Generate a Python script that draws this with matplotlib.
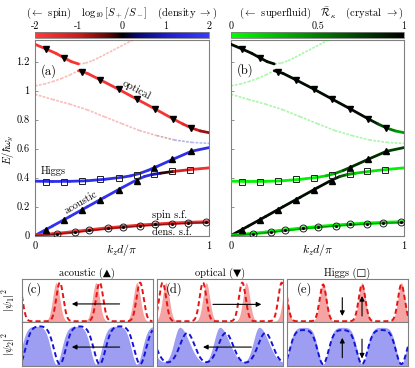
import numpy as np
import matplotlib
matplotlib.use('Agg')
import matplotlib.pyplot as plt
from matplotlib.collections import LineCollection
from matplotlib.colors import LinearSegmentedColormap, Normalize
from matplotlib.cm import ScalarMappable

plt.rcParams['font.family'] = ['cmr10', 'DejaVu Sans']
plt.rcParams['mathtext.fontset'] = 'cm'
plt.rcParams['axes.formatter.use_mathtext'] = True
plt.rcParams['font.size'] = 7.5

# =====================================================
# DISPERSION DATA  (k_z d / pi , E / hbar w_y)
# ca = log10[S+/S-] colour value, cb = R_kappa colour value
# =====================================================

opt_hi_k = [0, 0.06, 0.12, 0.17, 0.21, 0.25]
opt_hi_E = [1.32, 1.29, 1.258, 1.225, 1.2, 1.185]
opt_hi_ca = [-1.8] * 6
opt_hi_cb = [0.95] * 6

opt_hi_faint_k = [0.25, 0.29, 0.33, 0.37, 0.41, 0.45, 0.49, 0.53, 0.58]
opt_hi_faint_E = [1.185, 1.19, 1.207, 1.23, 1.255, 1.28, 1.305, 1.33, 1.36]
opt_hi_faint_ca = [-1.8] * 9
opt_hi_faint_cb = [0.1] * 9

opt_lo_faint_k = [0, 0.05, 0.1, 0.15, 0.2, 0.25]
opt_lo_faint_E = [1.033, 1.045, 1.062, 1.083, 1.108, 1.138]
opt_lo_faint_ca = [-1.8] * 6
opt_lo_faint_cb = [0.1] * 6

opt_lo_k = [0.25, 0.3, 0.375, 0.48, 0.586, 0.69, 0.794, 0.85, 0.9, 0.95, 1.0]
opt_lo_E = [1.138, 1.12, 1.075, 1.01, 0.941, 0.874, 0.805, 0.77, 0.742, 0.722, 0.71]
opt_lo_ca = [-1.8] * 7 + [-1.6, -1.2, -0.8, -0.5]
opt_lo_cb = [0.95] * 7 + [0.8, 0.6, 0.45, 0.35]

third_k = [0, 0.1, 0.2, 0.3, 0.4, 0.5, 0.6, 0.7, 0.8, 0.9, 1.0]
third_E = [0.975, 0.94, 0.907, 0.868, 0.82, 0.772, 0.725, 0.69, 0.66, 0.643, 0.636]
third_ca = [-1.8] * 7 + [-1.2, 0.3, 1.2, 1.6]
third_cb = [0.1] * 11

lower_k = [0, 0.1, 0.2, 0.3, 0.4, 0.5, 0.586, 0.63, 0.67, 0.72, 0.8, 0.9, 1.0]
lower_E = [0, 0.065, 0.131, 0.198, 0.264, 0.33, 0.385, 0.408, 0.42, 0.43, 0.443, 0.456, 0.467]
lower_ca = [1.7] * 8 + [1.2, 0.5, -0.8, -1.6, -1.7]
lower_cb = [0.95] * 7 + [0.8, 0.5, 0.25, 0.08, 0.05, 0.05]

upper_k = [0, 0.1, 0.2, 0.3, 0.4, 0.5, 0.55, 0.6, 0.65, 0.7, 0.8, 0.9, 1.0]
upper_E = [0.375, 0.373, 0.374, 0.378, 0.388, 0.402, 0.412, 0.428, 0.45, 0.476, 0.53, 0.582, 0.607]
upper_ca = [1.6] * 13
upper_cb = [0.05] * 6 + [0.15, 0.35, 0.6, 0.8, 0.85, 0.8, 0.7]

sf_k = [0, 0.1, 0.2, 0.3, 0.4, 0.5, 0.6, 0.7, 0.8, 0.9, 1.0]
sf_spin_E = [0, 0.01, 0.022, 0.036, 0.049, 0.06, 0.07, 0.078, 0.085, 0.09, 0.094]
sf_dens_E = [0, 0.008, 0.019, 0.032, 0.045, 0.056, 0.066, 0.074, 0.081, 0.086, 0.09]

# markers
opt_mk_k = [0.062, 0.169, 0.27, 0.375, 0.48, 0.586, 0.69, 0.794, 0.897]
opt_mk_E = [1.29, 1.225, 1.13, 1.075, 1.01, 0.941, 0.874, 0.805, 0.74]
aco_mk_k = [0.062, 0.167, 0.269, 0.375, 0.48, 0.586, 0.686, 0.79, 0.894]
aco_mk_E = [0.039, 0.109, 0.178, 0.248, 0.312, 0.377, 0.467, 0.525, 0.582]
hig_mk_k = [0.062, 0.167, 0.269, 0.375, 0.48, 0.586, 0.686, 0.788, 0.893]
hig_mk_E = [0.372, 0.372, 0.376, 0.388, 0.40, 0.418, 0.428, 0.443, 0.455]
sf_mk_k = [0.125, 0.23, 0.313, 0.417, 0.505, 0.605, 0.688, 0.788, 0.88, 0.984]
sf_mk_E = [0.012, 0.023, 0.039, 0.053, 0.062, 0.069, 0.076, 0.081, 0.088, 0.09]

# =====================================================
# DENSITY PROFILE DATA (peak / dip centres, panel fraction)
# =====================================================

aco_psi1_fill = [0.262, 0.567, 0.88]
aco_psi1_dash = [-0.025, 0.29, 0.595, 0.905]
aco_psi2_fill = [-0.047, 0.262, 0.567, 0.88, 1.19]
aco_psi2_dash = [-0.02, 0.29, 0.595, 0.905, 1.215]

opt_psi1_fill = [0.07, 0.391, 0.709, 1.025]
opt_psi1_dash = [0.045, 0.365, 0.677, 0.99]
opt_psi2_fill = [-0.135, 0.18, 0.498, 0.81, 1.125]
opt_psi2_dash = [-0.07, 0.24, 0.545, 0.86, 1.17]

hig_psi1_fill = [-0.025, 0.298, 0.62, 0.945]
hig_psi1_dash = [-0.025, 0.298, 0.62, 0.945]
hig_psi2_fill = [-0.025, 0.298, 0.62, 0.945, 1.27]
hig_psi2_dash = [-0.025, 0.298, 0.62, 0.945, 1.27]

# =====================================================
# COLOUR MAPS
# =====================================================

cmap_a = LinearSegmentedColormap.from_list('spin_density', [
    (0, '#ff3a3a'), (0.25, '#cc1c1c'), (0.42, '#600606'), (0.5, '#000000'),
    (0.58, '#06066a'), (0.75, '#1c1cc8'), (1, '#3a3aff')])
norm_a = Normalize(-2, 2)
cmap_b = LinearSegmentedColormap.from_list('sf_crystal', ['#00ff00', '#000000'])
norm_b = Normalize(0, 1)

W, H = 415, 368
GRAY = '#808080'


def box(x0, y0, x1, y1):
    return [x0 / W, 1 - y1 / H, (x1 - x0) / W, (y1 - y0) / H]


def draw_curve(ax, k, E, c, cmap, norm, lw, alpha=1.0, ls='-'):
    pts = np.column_stack([k, E])
    segs = np.stack([pts[:-1], pts[1:]], axis=1)
    c = np.asarray(c, dtype=float)
    cols = cmap(norm(0.5 * (c[:-1] + c[1:])))
    cols[:, 3] = alpha
    cap = 'round' if alpha == 1.0 else 'butt'
    lc = LineCollection(segs, colors=cols, linewidths=lw, linestyles=ls,
                        capstyle=cap, joinstyle='round', zorder=3)
    ax.add_collection(lc)


def style_spines(ax):
    for s in ax.spines.values():
        s.set_color(GRAY)
        s.set_linewidth(0.8)


fig = plt.figure(figsize=(W / 100, H / 100), dpi=100)

ax_a = fig.add_axes(box(35, 40, 209, 235.5))
ax_b = fig.add_axes(box(231, 40, 404, 235.5))
cax_a = fig.add_axes(box(35, 32, 209, 37.5))
cax_b = fig.add_axes(box(231, 32, 404, 37.5))

faint = [
    (opt_hi_faint_k, opt_hi_faint_E, opt_hi_faint_ca, opt_hi_faint_cb),
    (opt_lo_faint_k, opt_lo_faint_E, opt_lo_faint_ca, opt_lo_faint_cb),
    (third_k, third_E, third_ca, third_cb),
]
bold = [
    (opt_hi_k, opt_hi_E, opt_hi_ca, opt_hi_cb),
    (opt_lo_k, opt_lo_E, opt_lo_ca, opt_lo_cb),
    (lower_k, lower_E, lower_ca, lower_cb),
    (upper_k, upper_E, upper_ca, upper_cb),
]

for i, (ax, cmap, norm) in enumerate([(ax_a, cmap_a, norm_a), (ax_b, cmap_b, norm_b)]):
    for k, E, ca, cb in faint:
        draw_curve(ax, k, E, ca if i == 0 else cb, cmap, norm, 1.2, alpha=0.33, ls=(0, (1.6, 0.8)))
    for k, E, ca, cb in bold:
        draw_curve(ax, k, E, ca if i == 0 else cb, cmap, norm, 2.0)
    # superfluid modes
    draw_curve(ax, sf_k, sf_spin_E, [-1.7 if i == 0 else 0.05] * len(sf_k), cmap, norm, 2.4)
    draw_curve(ax, sf_k, sf_dens_E, [-0.6 if i == 0 else 0.4] * len(sf_k), cmap, norm, 0.9)

    ax.plot(opt_mk_k, opt_mk_E, 'v', color='k', ms=4.3, zorder=5)
    ax.plot(aco_mk_k, aco_mk_E, '^', color='k', ms=4.0, zorder=5)
    ax.plot(hig_mk_k, hig_mk_E, 's', mfc='none', mec='#202020', ms=5, mew=0.7, zorder=5)
    ax.plot(sf_mk_k, sf_mk_E, 'o', mfc='none', mec='#202020', ms=5, mew=0.7, zorder=5)
    ax.plot(sf_mk_k, sf_mk_E, '.', color='k', ms=2.5, zorder=5)

    ax.set_xlim(0, 1)
    ax.set_ylim(0, 1.35)
    ax.set_xticks([0, 1])
    ax.set_xticklabels(['0', '1'])
    ax.set_yticks([0, 0.2, 0.4, 0.6, 0.8, 1.0, 1.2])
    if i == 0:
        ax.set_yticklabels(['0', '0.2', '0.4', '0.6', '0.8', '1', '1.2'])
    else:
        ax.set_yticklabels([])
    ax.tick_params(direction='in', length=2.5, width=0.6, color=GRAY, labelsize=7.5, pad=4.0)
    ax.tick_params(axis='x', pad=4)
    style_spines(ax)
    pos = ax.get_position()
    fig.text(pos.x0 + pos.width / 2, 1 - 250 / H, r'$k_z d/\pi$', ha='center', va='center', fontsize=8.5)

fig.text(8 / W, 1 - 150 / H, r'$E/\hbar\omega_y$', rotation=90, ha='center', va='center', fontsize=7.6)

ax_a.text(0.078, 0.84, '(a)', transform=ax_a.transAxes, fontsize=9, ha='center', va='center')
ax_b.text(0.081, 0.846, '(b)', transform=ax_b.transAxes, fontsize=9, ha='center', va='center')
ax_a.text(0.586, 1.008, 'optical', rotation=-28, ha='center', va='center', fontsize=7.5)
ax_a.text(0.265, 0.231, 'acoustic', rotation=30, ha='center', va='center', fontsize=7.5)
ax_a.text(0.035, 0.445, 'Higgs', ha='left', va='center', fontsize=7.5)
ax_a.text(0.672, 0.139, 'spin s.f.', ha='left', va='center', fontsize=7.5)
ax_a.text(0.672, 0.022, 'dens. s.f.', ha='left', va='center', fontsize=7.5)

# colour bars
for cax, cmap, norm, ticks, labels in [
        (cax_a, cmap_a, norm_a, [-2, -1, 0, 1, 2], ['-2', '-1', '0', '1', '2']),
        (cax_b, cmap_b, norm_b, [0, 0.5, 1], ['0', '0.5', '1'])]:
    cb = fig.colorbar(ScalarMappable(norm, cmap), cax=cax, orientation='horizontal', ticks=ticks)
    cax.xaxis.set_ticks_position('top')
    cax.set_xticklabels(labels)
    cax.tick_params(length=0, pad=1.0, labelsize=7.2)
    cb.outline.set_edgecolor(GRAY)
    cb.outline.set_linewidth(0.6)

fig.text(122 / W, 1 - 13 / H, r'($\leftarrow$ spin)   $\log_{10}[S_+/S_-]$   (density $\rightarrow$)',
         ha='center', va='center', fontsize=7.6)
fig.text(321 / W, 1 - 13 / H, r'($\leftarrow$ superfluid)   $\bar{\mathcal{R}}_\kappa$   (crystal $\rightarrow$)',
         ha='center', va='center', fontsize=7.6)

# =====================================================
# DENSITY PROFILES
# =====================================================

x = np.linspace(0, 1, 600)


def bumps(centres, sl, sr):
    y = np.zeros_like(x)
    for c in centres:
        d = x - c
        s = np.where(d < 0, sl, sr)
        y += np.exp(-d ** 2 / (2 * s ** 2))
    return y


cols_px = [(22, 152.5), (157, 283), (287, 408)]
rows_px = [(279, 322), (322, 366)]
titles = ['acoustic (▲)', 'optical (▼)', 'Higgs (□)']
letters = ['(c)', '(d)', '(e)']
letter_x = [0.095, 0.135, 0.145]

# (fill centres, dash centres, kind, width_l, width_r, fill amp, dash amp)
prof_table = [
    [(aco_psi1_fill, aco_psi1_dash, 'peak', 0.027, 0.027, 1.0, 1.0),
     (aco_psi2_fill, aco_psi2_dash, 'dip', 0.042, 0.042, 1.0, 1.0)],
    [(opt_psi1_fill, opt_psi1_dash, 'peak', 0.027, 0.027, 1.0, 1.0),
     (opt_psi2_fill, opt_psi2_dash, 'peak', 0.045, 0.075, 0.97, 0.82)],
    [(hig_psi1_fill, hig_psi1_dash, 'peak', 0.028, 0.028, 1.0, 0.95),
     (hig_psi2_fill, hig_psi2_dash, 'dip', 0.042, 0.042, 0.97, 0.9)],
]

arrows = [
    [((0.748, 0.42), (0.382, 0.42))], [((0.748, 0.43), (0.382, 0.43))],
    [((0.444, 0.41), (0.828, 0.41))], [((0.749, 0.43), (0.365, 0.43))],
    [((0.457, 0.565), (0.457, 0.14)), ((0.62, 0.14), (0.62, 0.605))],
    [((0.457, 0.19), (0.457, 0.64)), ((0.62, 0.61), (0.62, 0.17))],
]

for j, (x0, x1) in enumerate(cols_px):
    for r, (y0, y1) in enumerate(rows_px):
        ax = fig.add_axes(box(x0, y0, x1, y1))
        fc, dc, kind, sl, sr, af, ad = prof_table[j][r]
        if kind == 'peak':
            yf = af * bumps(fc, sl, sr)
            if j == 1 and r == 1:
                yd = ad * bumps(dc, 0.058, 0.058)
            else:
                yd = ad * bumps(dc, sl, sr)
        else:
            yf = af * (1 - bumps(fc, sl, sr))
            yd = ad * (1 - bumps(dc, sl + 0.003, sr + 0.003))
        fill_col = '#f5a3a3' if r == 0 else '#9d9df2'
        dash_col = '#e81414' if r == 0 else '#1414d8'
        ax.fill_between(x, -1, yf, color=fill_col, lw=0)
        ax.plot(x, yd, color=dash_col, lw=1.4, ls=(0, (2.6, 1.6)))
        for (xs, ys), (xe, ye) in arrows[2 * j + r]:
            ax.annotate('', xy=(xe, ye), xytext=(xs, ys), xycoords='axes fraction',
                        arrowprops=dict(arrowstyle='-|>', color='k', lw=0.8,
                                        mutation_scale=7, shrinkA=0, shrinkB=0))
        ax.set_xlim(0, 1)
        ax.set_ylim(-0.02, 1.094) if r == 0 else ax.set_ylim(-0.05, 1.11)
        ax.set_xticks([])
        ax.set_yticks([])
        style_spines(ax)
        if r == 0:
            ax.set_title(titles[j], fontsize=7.5, pad=1.5)
            ax.text(letter_x[j], 0.77, letters[j], transform=ax.transAxes,
                    fontsize=9, ha='center', va='center')

fig.text(9 / W, 1 - 300 / H, r'$|\psi_1|^2$', rotation=90, ha='center', va='center', fontsize=8)
fig.text(9 / W, 1 - 344 / H, r'$|\psi_2|^2$', rotation=90, ha='center', va='center', fontsize=8)

fig.savefig('out.png', dpi=100)
